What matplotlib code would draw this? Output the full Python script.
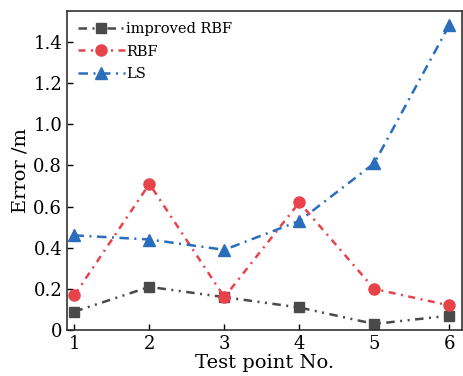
import matplotlib
matplotlib.use("Agg")
import matplotlib.pyplot as plt

# ── Data ──────────────────────────────────────────────────────────────────────
test_points = [1, 2, 3, 4, 5, 6]
err_improved_rbf = [0.09, 0.21, 0.16, 0.11, 0.03, 0.07]
err_rbf = [0.17, 0.71, 0.16, 0.62, 0.20, 0.12]
err_ls = [0.46, 0.44, 0.39, 0.53, 0.81, 1.48]

plt.rcParams["font.family"] = ["DejaVu Serif"]
plt.rcParams["mathtext.fontset"] = "dejavuserif"

fig = plt.figure(figsize=(4.63, 3.76), dpi=100)
ax = fig.add_axes([0.1447, 0.122, 0.853, 0.849])

lw = 1.8
ax.plot(test_points, err_improved_rbf, color="#4a4a4a", lw=lw,
        dashes=(3.4, 2.2, 0.8, 2.2, 0.8, 2.2), marker="s", ms=7,
        label="improved RBF")
ax.plot(test_points, err_rbf, color="#e8434a", lw=lw,
        dashes=(2.8, 2.2, 0.8, 2.2), marker="o", ms=8, label="RBF")
ax.plot(test_points, err_ls, color="#2a6ebb", lw=lw,
        dashes=(3.8, 2.2, 0.8, 2.2), marker="^", ms=8.5, label="LS")

ax.set_xlim(0.9, 6.17)
ax.set_ylim(0, 1.55)
ax.set_xticks(test_points)
ax.set_yticks([0, 0.2, 0.4, 0.6, 0.8, 1.0, 1.2, 1.4])
ax.set_yticklabels(["0", "0.2", "0.4", "0.6", "0.8", "1.0", "1.2", "1.4"])
ax.tick_params(direction="in", labelsize=13, width=1.0, length=4)
for s in ax.spines.values():
    s.set_color("#333333")
    s.set_linewidth(1.2)

ax.set_xlabel("Test point No.", fontsize=14, labelpad=1)
ax.set_ylabel("Error /m", fontsize=14, labelpad=3)

leg = ax.legend(loc="upper left", frameon=False, fontsize=10.5,
                handlelength=3.2, handletextpad=0.1, labelspacing=0.6,
                borderaxespad=0.35)

fig.savefig("out.png", dpi=100)
